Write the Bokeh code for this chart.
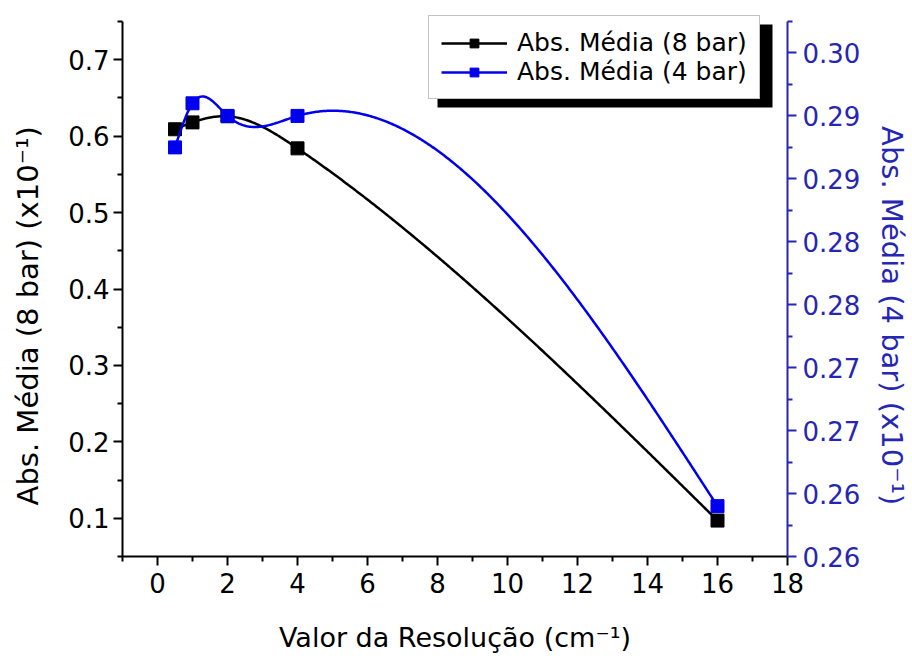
import numpy as np
from bokeh.plotting import figure
from bokeh.models import (Range1d, LinearAxis, FixedTicker, Legend, LegendItem,
                          BoxAnnotation)
from bokeh.embed import file_html
from bokeh.resources import INLINE

# ---------------- data ----------------
resolution = [0.5, 1, 2, 4, 16]
abs_8bar = [0.609, 0.618, 0.626, 0.584, 0.097]
abs_4bar = [0.2875, 0.2910, 0.2900, 0.2900, 0.2590]

x_ticks = [0, 2, 4, 6, 8, 10, 12, 14, 16, 18]
x_minor = [-1, 1, 3, 5, 7, 9, 11, 13, 15, 17]
left_ticks = [0.1, 0.2, 0.3, 0.4, 0.5, 0.6, 0.7]
left_minor = [0.05, 0.15, 0.25, 0.35, 0.45, 0.55, 0.65, 0.75]
right_ticks = [0.255, 0.260, 0.265, 0.270, 0.275, 0.280, 0.285, 0.290, 0.295]
right_labels = ["0.26", "0.26", "0.27", "0.27", "0.28", "0.28", "0.29", "0.29", "0.30"]
right_minor = [0.2575, 0.2625, 0.2675, 0.2725, 0.2775, 0.2825, 0.2875, 0.2925, 0.2975]

label_8 = "Abs. Média (8 bar)"
label_4 = "Abs. Média (4 bar)"
xlabel = "Valor da Resolução (cm⁻¹)"
ylabel_left = "Abs. Média (8 bar) (x10⁻¹)"
ylabel_right = "Abs. Média (4 bar) (x10⁻¹)"

BLACK = "#000000"
BLUE = "#0000ee"
AXBLUE = "#2626b4"
FONT = "DejaVu Sans"

# layout (pixels)
W, H = 912, 662
FRAME_TOP, AXIS_TOP, AXIS_BOTTOM = 10, 21, 556
LEFT_BOUNDS = (0.05, 0.75)
RIGHT_BOUNDS = (0.255, 0.2975)


def natural_spline(xs, ys, n=400):
    x = np.asarray(xs, float)
    y = np.asarray(ys, float)
    m = len(x)
    h = np.diff(x)
    A = np.zeros((m, m))
    b = np.zeros(m)
    A[0, 0] = A[-1, -1] = 1.0
    for i in range(1, m - 1):
        A[i, i - 1] = h[i - 1]
        A[i, i] = 2 * (h[i - 1] + h[i])
        A[i, i + 1] = h[i]
        b[i] = 3 * ((y[i + 1] - y[i]) / h[i] - (y[i] - y[i - 1]) / h[i - 1])
    c = np.linalg.solve(A, b)
    bb = (y[1:] - y[:-1]) / h - h * (2 * c[:-1] + c[1:]) / 3
    d = (c[1:] - c[:-1]) / (3 * h)
    xx = np.linspace(x[0], x[-1], n)
    idx = np.clip(np.searchsorted(x, xx, side="right") - 1, 0, m - 2)
    t = xx - x[idx]
    yy = y[idx] + bb[idx] * t + c[idx] * t ** 2 + d[idx] * t ** 3
    return xx, yy


def extended_top(bounds):
    lo, hi = bounds
    per_px = (hi - lo) / (AXIS_BOTTOM - AXIS_TOP)
    return lo + (AXIS_BOTTOM - FRAME_TOP) * per_px


p = figure(width=W, height=H, x_range=Range1d(-1, 18),
           y_range=Range1d(LEFT_BOUNDS[0], extended_top(LEFT_BOUNDS)),
           output_backend="svg", toolbar_location=None,
           min_border_left=122, min_border_right=124,
           min_border_top=FRAME_TOP, min_border_bottom=H - AXIS_BOTTOM)
p.extra_y_ranges = {"right": Range1d(RIGHT_BOUNDS[0], extended_top(RIGHT_BOUNDS))}
p.grid.visible = False
p.outline_line_color = None
p.background_fill_color = "white"
p.border_fill_color = "white"


def style_axis(ax, color):
    ax.axis_line_color = color
    ax.axis_line_width = 2
    ax.major_tick_line_color = color
    ax.minor_tick_line_color = color
    ax.major_tick_line_width = 2
    ax.minor_tick_line_width = 2
    ax.major_tick_in = 0
    ax.major_tick_out = 9
    ax.minor_tick_in = 0
    ax.minor_tick_out = 5
    ax.major_label_text_font = FONT
    ax.major_label_text_font_size = "26px"
    ax.major_label_text_color = color
    ax.axis_label_text_font = FONT
    ax.axis_label_text_font_size = "29px"
    ax.axis_label_text_font_style = "normal"
    ax.axis_label_text_color = color


xa = p.xaxis[0]
xa.ticker = FixedTicker(ticks=x_ticks, minor_ticks=x_minor)
xa.axis_label = xlabel
style_axis(xa, BLACK)
xa.axis_label_text_font_size = "27px"
xa.major_label_standoff = 7
xa.axis_label_standoff = 26

ya = p.yaxis[0]
ya.ticker = FixedTicker(ticks=left_ticks, minor_ticks=left_minor)
ya.bounds = LEFT_BOUNDS
ya.axis_label = ylabel_left + "\u00a0" * 7
style_axis(ya, BLACK)
ya.major_label_standoff = 4
ya.axis_label_standoff = 20

ra = LinearAxis(y_range_name="right")
ra.ticker = FixedTicker(ticks=right_ticks, minor_ticks=right_minor)
ra.bounds = RIGHT_BOUNDS
ra.major_label_overrides = {t: s for t, s in zip(right_ticks, right_labels)}
ra.axis_label = "\u00a0" * 7 + ylabel_right
style_axis(ra, AXBLUE)
ra.major_label_standoff = 6
ra.axis_label_standoff = 12
p.add_layout(ra, "right")

# black series (8 bar)
bx, by = natural_spline(resolution, abs_8bar)
l8 = p.line(bx, by, line_color=BLACK, line_width=2.5)
s8 = p.scatter(resolution, abs_8bar, marker="square", size=13,
               fill_color=BLACK, line_color=BLACK)

# blue series (4 bar)
ux, uy = natural_spline(resolution, abs_4bar)
l4 = p.line(ux, uy, line_color=BLUE, line_width=2.5, y_range_name="right")
s4 = p.scatter(resolution, abs_4bar, marker="square", size=13,
               fill_color=BLUE, line_color=BLUE, y_range_name="right")

# legend (frame-relative screen units, y measured up from the frame bottom)
shadow = BoxAnnotation(left=315, right=650, top=532, bottom=449,
                       left_units="screen", right_units="screen",
                       top_units="screen", bottom_units="screen",
                       fill_color="black", fill_alpha=1.0, line_color=None)
p.add_layout(shadow)

legend = Legend(items=[LegendItem(label=label_8, renderers=[l8, s8]),
                       LegendItem(label=label_4, renderers=[l4, s4])],
                location=(306, 457))
legend.label_text_font = FONT
legend.label_text_font_size = "25px"
legend.label_text_color = "black"
legend.glyph_width = 66
legend.glyph_height = 22
legend.label_standoff = 10
legend.padding = 12
legend.spacing = 0
legend.margin = 0
legend.border_line_color = "#888888"
legend.border_line_width = 1.5
legend.background_fill_color = "white"
legend.background_fill_alpha = 1.0
p.add_layout(legend, "center")

open("out.html", "w").write(file_html(p, INLINE))
